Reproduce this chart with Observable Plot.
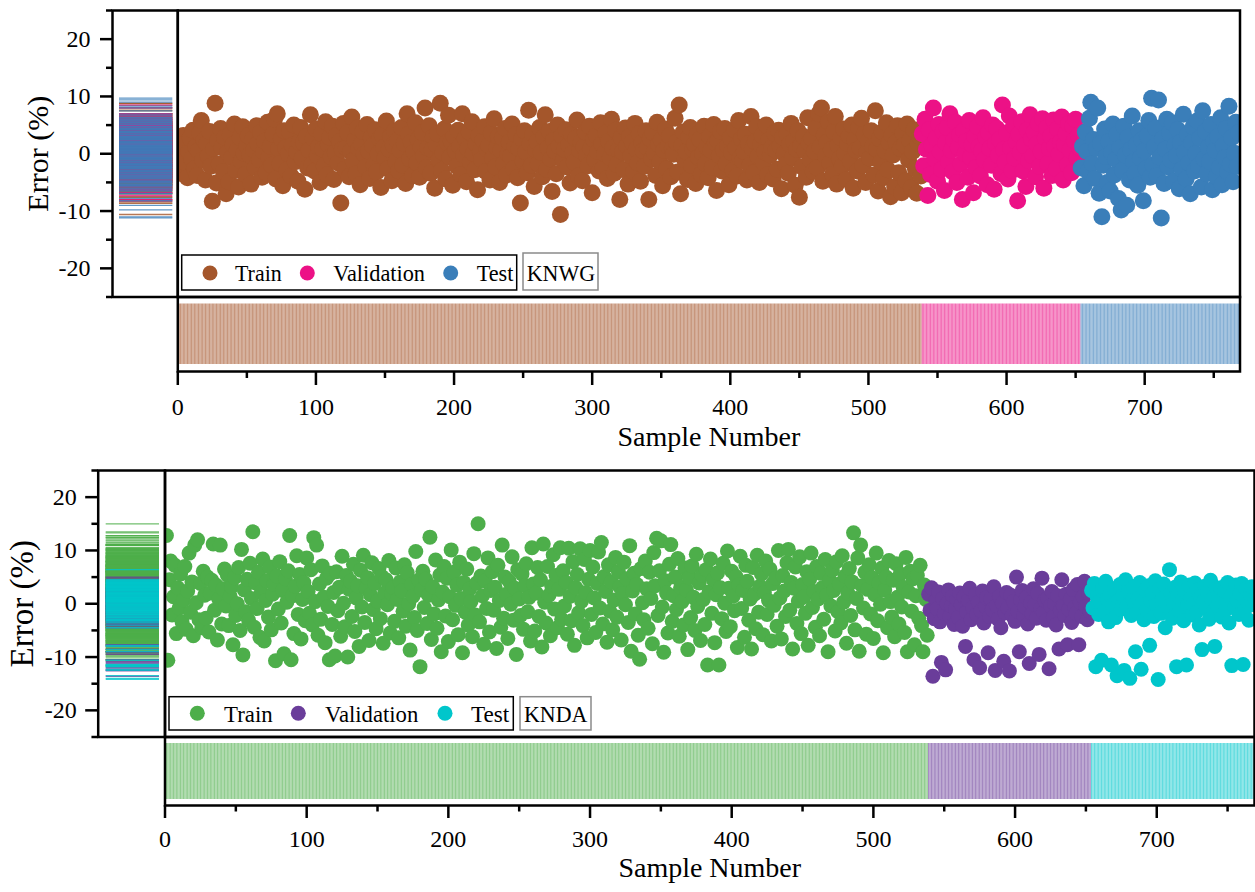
<!DOCTYPE html>
<html><head><meta charset="utf-8">
<script src="https://cdn.jsdelivr.net/npm/d3@7"></script>
<script src="https://cdn.jsdelivr.net/npm/@observablehq/plot@0.6"></script>
<style>
body{margin:0;background:#fff;}
#chart{position:relative;width:1255px;height:892px;overflow:hidden;font-family:"Liberation Serif","Times New Roman",serif;}
#chart svg{position:absolute;left:0;top:0;}
#chart svg text{font-family:"Liberation Serif","Times New Roman",serif !important;}
</style></head><body><div id="chart"></div>
<script>
// ---------- tick labels / categories ----------
const sampleTicks = [0, 100, 200, 300, 400, 500, 600, 700];
const sampleMinorTicks = [50, 150, 250, 350, 450, 550, 650, 750];
const errorTicks = [-20, -10, 0, 10, 20];
const errorMinorTicks = [-25, -15, -5, 5, 15, 25];
const setNames = ["Train", "Validation", "Test"];
const panelNames = ["KNWG", "KNDA"];
const knwgColors = ["#a4562b", "#ec1186", "#3a7eb9"];
const kndaColors = ["#4dae4a", "#6a3d9a", "#00c6cb"];

// ---------- KNWG errors (%) ----------
const knwgTrain = [
2.1,-3.4,0.8,3.2,-1.5,1.9,-4.2,0.3,2.7,-0.9,4.1,-2.6,1.2,-3.8,0.5,3.6,5.8,-1.1,2.4,-4.6,
1.7,-0.4,3.9,-2.2,-8.3,0.9,8.8,-5.1,2.3,-1.8,4.4,1.1,-3.1,2.9,-7.0,0.2,-4.9,3.3,-0.7,1.6,
5.2,-2.9,0.6,-5.8,2.8,-1.3,4.7,0.1,-3.6,1.4,3.1,-0.2,-5.3,2.5,0.7,-2.4,4.9,1.8,-1.0,3.7,
-4.1,0.4,2.2,-3.3,5.5,-0.6,1.3,-2.0,3.4,6.0,-4.4,7.0,0.9,-1.7,2.6,-5.6,4.0,1.0,-2.8,0.0,
3.8,-3.9,1.5,5.0,-1.4,0.3,-4.8,2.0,4.6,-0.8,1.9,-6.2,3.0,-2.5,0.6,6.8,-1.9,2.7,-3.0,4.3,
-0.3,1.2,-5.0,3.5,0.8,-2.1,5.6,-3.7,1.6,2.9,-0.5,4.8,-4.5,0.2,3.2,-1.6,2.1,-8.6,0.7,5.3,
-2.7,1.0,3.6,-4.0,0.4,6.4,-1.2,2.4,-3.5,4.5,0.9,-5.4,1.7,3.9,-0.1,-2.3,5.1,0.5,-4.3,2.8,
1.4,-1.9,4.2,-3.2,0.0,2.6,-5.9,3.3,1.1,-0.7,5.7,-2.6,0.8,3.0,-4.7,1.5,4.0,-1.4,2.3,-3.0,
0.6,4.6,-2.0,1.8,-5.2,7.0,3.4,-0.9,2.0,-3.8,0.3,5.4,-1.6,2.5,-4.1,1.2,3.7,-0.4,8.0,-2.4,
1.0,4.9,-3.4,0.7,2.9,-6.0,1.6,3.5,-1.1,8.8,-2.9,0.2,4.3,-4.4,1.9,6.7,-0.6,2.2,-5.5,3.1,
0.5,-2.2,4.1,1.3,-3.6,7.0,-0.2,2.7,-4.9,0.9,3.8,-1.5,5.6,0.1,-2.8,1.7,-6.3,3.2,0.4,-1.0,
2.4,4.7,-3.1,0.8,1.5,-4.6,3.6,-0.8,6.1,-2.3,1.1,3.0,-5.0,0.6,2.8,-1.7,4.4,-3.7,0.0,2.0,
-0.5,5.2,-2.6,1.4,3.3,-4.2,0.9,-8.6,2.6,-1.3,4.0,0.3,-3.3,7.6,1.8,-2.0,3.5,-5.7,0.7,2.1,
-1.8,4.6,0.2,-4.0,2.9,6.8,-2.7,1.0,3.9,-0.9,-6.6,2.3,0.5,-3.5,5.0,1.3,-10.6,3.1,-1.2,0.8,
4.2,-2.3,1.6,-5.1,3.4,0.1,-1.5,2.7,5.9,-3.9,0.6,2.0,-4.7,1.2,3.8,-0.3,-2.1,4.8,0.9,-6.8,
2.5,-1.0,3.2,0.4,-3.0,5.4,1.7,-2.5,0.0,3.6,-4.3,2.2,-0.7,6.0,1.0,-3.4,4.1,-1.9,0.7,-8.0,
2.8,0.3,-2.8,4.5,1.4,-5.3,3.0,-0.4,2.0,-3.1,5.3,0.8,-1.6,3.5,-4.8,1.9,0.5,-2.2,4.0,1.1,
-8.0,2.6,-0.9,3.7,0.2,-3.8,5.5,1.6,-1.4,2.4,-5.6,0.6,4.3,-2.6,1.3,3.1,-4.0,0.9,-0.1,6.2,
2.0,-3.2,8.5,-7.0,1.5,3.8,-1.1,0.4,-4.5,2.9,4.6,-2.0,0.8,1.7,-5.2,3.3,-0.6,2.5,-3.6,0.0,
4.8,-1.7,1.2,-4.2,3.0,0.6,-2.4,5.1,1.9,-6.4,2.3,-0.3,3.9,-3.0,0.7,4.4,-1.8,1.4,-5.4,2.8,
0.2,-2.9,4.2,1.0,-3.9,5.8,-0.8,2.6,-1.2,0.4,3.4,-4.6,1.8,-2.1,6.5,0.9,-3.3,2.1,4.7,-0.5,
-5.0,1.6,3.2,-1.5,0.3,5.0,-3.7,2.4,-0.2,1.1,-4.4,3.6,0.6,-2.7,4.1,1.3,-6.1,2.9,0.0,-1.9,
3.5,-3.4,1.7,5.3,-0.7,2.2,-5.5,0.8,4.0,-7.6,1.4,-2.3,3.0,0.5,-4.1,6.3,1.9,-1.0,2.7,-3.1,
0.4,4.5,-2.5,7.0,1.2,8.0,-4.8,3.3,-0.4,2.0,5.6,-1.6,0.7,-3.6,3.9,6.5,-5.3,1.5,-0.9,2.8,
-2.2,4.3,0.1,-4.5,1.8,3.1,-1.3,5.0,-6.0,2.4,0.6,-3.0,4.6,1.0,6.2,-2.0,3.4,-5.0,0.3,2.2,
-0.8,4.0,1.3,-3.7,7.5,0.8,-6.5,2.6,-1.5,3.8,-4.2,0.5,5.4,-2.8,1.9,-7.5,3.3,-0.2,-5.8,2.0,
4.9,-3.3,0.9,-6.8,3.6,1.5,-4.7,5.2,-1.1,2.3,-5.9,0.4,4.2,-2.6,-6.9,1.8,3.0,-3.9
];
const knwgValidation = [
3.5,-2.1,6.0,0.8,-7.3,4.2,-3.6,1.5,8.0,-0.9,2.7,-4.8,5.1,0.3,-2.7,3.9,-6.4,1.9,4.6,-1.4,
7.0,0.6,-3.2,2.4,5.5,-5.0,1.1,3.3,-1.8,-8.0,4.0,0.0,2.2,-4.1,5.8,-0.6,1.6,-6.8,3.0,-2.4,
4.7,1.2,-3.9,0.5,6.3,-1.1,2.9,-5.4,3.7,0.9,-2.0,5.0,-6.2,1.8,4.4,-0.3,2.5,-3.5,8.5,0.7,
-1.5,3.6,-4.4,6.6,1.0,-2.9,4.9,-0.8,2.1,-8.2,3.4,0.2,5.6,-3.0,1.4,-5.7,4.1,-1.2,6.8,2.6,
-0.4,3.8,-4.0,1.7,5.3,-2.2,0.4,6.1,-6.0,2.8,4.5,-1.7,0.9,3.1,-3.8,5.9,1.3,-2.6,4.3,-0.1,
2.0,6.4,-4.6,1.6,3.5,-1.9,5.2,0.6,-3.3,4.8,2.3,6.0,-0.7,3.2,1.0
];
const knwgTest = [
-2.5,1.3,-5.6,3.8,0.4,-3.1,6.2,9.0,-1.7,2.5,-4.3,0.9,8.0,-6.9,1.8,-11.0,-2.0,4.3,-0.5,-5.0,
2.1,-6.5,0.2,5.2,-3.7,-1.0,3.4,-7.8,1.0,-9.8,-2.9,4.8,-0.2,-9.0,2.9,-4.6,0.7,6.6,-1.4,-3.4,
1.6,-5.5,4.0,-0.8,2.4,-8.2,0.5,-2.6,3.1,5.8,-4.1,9.7,-1.9,1.2,4.5,-3.8,9.4,-0.6,-11.2,2.6,
-5.2,0.8,6.0,-2.3,3.6,-1.1,5.4,-4.8,1.5,-0.3,4.2,-6.1,2.0,-2.7,6.9,0.3,-4.4,3.3,-1.6,-7.0,
1.9,4.7,-3.0,0.0,5.7,-2.1,2.7,-5.8,7.5,-0.9,3.9,-3.5,1.1,-1.3,5.1,-6.3,2.2,0.6,-4.0,3.0,
-2.4,6.3,-5.4,1.4,-0.7,4.4,-3.2,8.3,-1.8,2.8,-4.9,0.1,5.5,-2.2,3.7
];

// ---------- KNDA errors (%) ----------
const kndaTrain = [
12.8,-10.6,4.5,8.0,-2.1,1.3,7.2,-5.6,3.0,-0.8,5.6,-3.4,0.7,7.0,-4.8,2.4,9.5,-1.6,4.1,-6.0,
11.0,0.2,12.0,-3.0,3.8,-4.5,6.1,1.6,-2.7,5.0,-5.3,2.0,4.4,11.2,-1.2,3.5,-6.8,0.9,11.0,-3.8,
2.8,6.5,-0.4,5.4,-4.1,1.4,3.2,-7.7,4.9,-2.2,0.0,6.8,-5.0,10.2,-9.6,2.6,-1.5,4.6,-3.1,7.6,
1.0,13.5,-4.4,3.9,-0.9,5.9,-6.3,2.2,8.4,-7.0,0.6,4.3,-2.5,6.9,-4.9,1.8,3.6,-10.7,5.2,-1.0,
7.9,-3.6,2.5,-9.4,4.7,0.3,6.2,12.8,-10.5,1.5,-5.6,3.3,9.0,-2.0,5.5,-6.6,0.8,4.0,-3.2,8.6,
2.3,-1.8,6.4,-4.0,12.4,0.4,11.0,-5.9,3.7,-2.9,7.1,1.2,-7.3,4.8,-0.5,-10.5,5.7,-3.9,2.1,-9.8,
6.0,-1.3,3.1,-6.1,8.9,0.1,-4.3,5.3,-10.0,2.7,4.2,-2.4,7.4,-5.2,1.1,3.4,-8.0,6.3,-0.6,9.1,
-3.5,2.9,4.9,-6.9,1.7,7.7,-1.1,3.8,-4.7,0.5,6.6,-2.8,5.1,-7.4,2.0,4.5,-0.2,8.1,-5.5,1.9,
3.0,-3.3,6.7,0.8,-6.4,4.1,2.4,-1.4,7.3,-4.2,5.8,0.0,-8.7,3.6,1.4,-2.6,9.8,-5.0,4.4,-11.8,
2.6,6.1,-0.7,4.6,-3.7,1.6,12.5,-6.7,3.2,-1.9,8.2,-4.6,0.7,5.4,-9.0,2.2,7.0,-2.3,4.8,-7.1,
1.3,10.1,-3.0,5.9,-0.3,3.5,-5.8,7.8,1.0,-9.2,4.0,-1.6,6.5,-4.0,2.8,0.4,-6.2,9.4,-2.1,3.9,
15.0,-3.4,5.2,1.5,-7.6,4.3,-0.9,8.6,-5.3,2.5,6.0,-1.2,3.1,-8.4,7.2,0.6,-4.4,11.0,-2.7,5.0,
1.8,-6.5,4.2,-0.1,8.8,-3.1,2.9,-9.5,6.4,0.9,-2.2,5.6,-4.8,3.4,7.5,-1.5,1.2,-7.0,10.5,3.7,
-5.1,2.0,6.8,-2.4,4.5,-8.1,11.2,0.3,-3.6,7.0,1.6,-6.0,3.3,9.2,-1.0,5.3,-4.5,2.7,10.5,-2.9,
6.2,-0.4,4.0,-5.7,10.4,1.4,-3.2,7.9,-7.8,3.0,5.5,-1.7,10.3,0.5,-4.1,8.3,2.1,-6.4,4.6,10.0,
-2.0,6.9,1.1,-5.4,3.8,9.7,-0.8,11.5,-3.8,5.1,2.3,-7.2,7.3,-1.4,4.1,-4.9,0.7,8.7,-2.5,6.0,
3.2,-6.8,1.9,7.8,-0.2,4.7,-3.5,10.9,-8.9,2.4,5.7,-1.9,3.6,-5.9,-10.4,6.6,0.2,-3.0,8.0,2.8,
-4.6,5.9,1.0,-7.5,9.6,3.4,12.3,-2.2,6.2,11.8,-0.6,-9.1,4.3,2.0,-5.5,7.4,11.1,-3.3,1.5,5.0,
-1.1,8.5,-6.1,3.1,0.4,-4.0,6.7,2.6,-8.6,4.9,-2.6,7.1,1.2,-5.0,9.3,-0.5,3.9,-6.9,5.4,0.8,
-3.9,6.4,-11.5,2.2,8.4,-1.8,4.5,-7.3,1.7,5.8,-11.5,3.0,-2.8,7.6,0.1,-5.2,9.9,2.9,-4.3,6.1,
1.4,-1.3,5.1,-8.2,3.5,8.9,-0.9,2.5,-6.3,7.2,4.2,-3.1,0.9,-8.5,6.8,1.8,-4.7,9.1,-1.6,3.3,
5.6,-5.8,2.1,8.0,-2.0,0.6,6.5,-7.0,3.8,-0.3,4.8,-4.2,10.0,1.1,-6.6,5.3,2.4,-2.4,7.7,10.2,
-1.2,4.0,-8.5,2.9,6.9,-3.7,0.5,8.8,-5.6,3.6,1.3,-1.8,6.0,-7.8,4.6,9.5,-0.7,2.3,-4.4,7.0,
0.9,-6.0,5.7,3.0,-2.9,8.3,1.6,-9.0,4.4,-0.4,6.3,2.5,-5.1,7.9,-1.5,3.7,-3.6,9.0,0.3,5.2,
-7.4,2.0,6.6,-2.2,4.1,13.3,-4.9,1.0,8.6,-8.9,11.0,3.4,-0.8,5.9,-5.7,2.7,7.3,-1.9,4.9,-6.5,
1.7,9.5,-3.2,3.9,-0.1,6.7,-9.2,2.6,5.0,-4.5,8.1,0.4,-2.5,4.4,-6.2,7.5,1.2,-3.8,5.6,-0.6,
3.1,-5.4,8.7,-9.0,2.2,6.1,-1.4,4.7,-7.7,1.5,5.3,-2.7,7.2,-4.1,-9.0,3.5,0.8,-5.9
];
const kndaValidation = [
1.8,-1.2,3.0,-13.6,-2.8,0.5,-0.9,2.2,-3.4,-11.0,1.0,-1.8,-12.4,0.0,2.6,-2.3,-0.4,1.5,-3.9,-1.0,
0.8,-2.6,2.0,-0.2,-4.2,1.3,-8.0,-1.5,0.6,2.9,-3.0,-0.7,-10.5,1.7,-2.0,0.3,-12.0,-1.3,2.4,-3.6,
-0.5,1.1,-9.2,-2.4,0.9,-1.1,3.2,-12.5,-0.3,-2.9,1.4,-4.5,0.1,-10.8,-1.7,2.1,-0.8,-12.6,1.6,-2.2,
0.4,-3.3,5.0,-1.4,-9.0,0.7,2.5,-2.1,-0.6,1.2,-3.8,-11.2,0.2,-1.9,2.8,-0.1,-2.7,1.9,-9.5,-0.9,
4.8,-1.6,0.6,-3.1,1.0,-12.2,-0.4,2.3,-2.5,0.0,-4.0,1.5,-8.5,-1.2,4.5,-0.3,-2.2,1.8,-7.7,-1.0,
0.9,-3.5,2.7,-0.7,-1.8,3.6,-7.7,0.3,-2.4,1.3,4.2,-0.5,-3.0,2.0,-1.5
];
const kndaTest = [
2.5,-0.8,3.8,-11.8,1.2,-2.0,0.4,-10.6,3.0,-1.5,4.2,0.9,-3.4,1.8,-11.5,-0.3,2.7,-2.6,-13.5,0.6,
3.6,-1.0,1.5,-12.5,4.5,-0.5,2.2,-14.0,-2.2,0.8,3.2,-9.0,-1.7,1.0,4.0,-12.3,0.2,-3.0,2.5,-1.2,
3.4,-7.8,0.5,1.9,-2.4,4.3,-0.1,-14.2,2.8,-1.8,0.9,3.7,-4.5,1.4,-0.6,6.4,2.0,-2.7,0.1,3.1,
-11.8,1.6,-1.3,4.1,0.7,-3.2,2.4,-11.5,-0.2,3.5,1.1,-2.1,0.0,3.9,-1.6,2.6,-4.0,1.3,-8.6,0.5,
3.3,-0.9,2.1,-2.9,4.4,0.8,-1.4,-8.0,2.9,-0.4,1.7,3.0,-2.5,0.3,2.4,-1.1,4.0,-3.6,1.2,-11.6,
2.2,-0.7,3.5,0.6,-2.0,1.9,3.8,-11.4,-1.3,2.7,0.4,-3.1,1.6,3.2,-0.2
];

// ---------- layout (pixels) ----------
const W = 1255, H = 892;
const FONT = '"Liberation Serif","Times New Roman",serif';
const panels = [
  {name: panelNames[0], colors: knwgColors, sets: [knwgTrain, knwgValidation, knwgTest],
   axL: 112, mainL: 177.3, mainR: 1239.5, top: 10, bottom: 296.5, stripBottom: 371,
   r: 8.5, rugInset: [7, 5], stripInset: [7, 7], yLabelDx: -74, yLabelSize: 30,
   yTickSize: 12, yTickPad: 10, xTickSize: 14, xTickPad: 12, xLabelDy: 74,
   legend: {box: [181.7, 255, 516.7, 290], dotsX: [210, 307.3, 450.7], dotY: 273, textX: [235, 333.3, 476.7],
            textW: [46.7, 91.7, 36.7], base: 280.5, tag: [523, 253, 598, 290], tagX: 526.7, tagW: 68.3}},
  {name: panelNames[1], colors: kndaColors, sets: [kndaTrain, kndaValidation, kndaTest],
   axL: 97.7, mainL: 164.5, mainR: 1254, top: 470, bottom: 736.5, stripBottom: 805,
   r: 7.5, rugInset: [8, 5.5], stripInset: [6.5, 6], yLabelDx: -76, yLabelSize: 33,
   yTickSize: 12.5, yTickPad: 9, xTickSize: 13, xTickPad: 11, xLabelDy: 71,
   legend: {box: [169, 696.7, 513.3, 730], dotsX: [197.3, 298.3, 445], dotY: 713.3, textX: [224, 325, 471],
            textW: [48.7, 93.3, 38.3], base: 721.5, tag: [520, 696.7, 591, 730], tagX: 524, tagW: 63.3}}
];
const xDomain = [0, 769];
const chart = document.getElementById("chart");
const baseStyle = `background:transparent;font-family:${FONT};font-size:24px;overflow:visible;color:black;`;

function serif(node) {
  node.querySelectorAll("text").forEach(t => { t.style.fontFamily = FONT; });
  return node;
}

for (const p of panels) {
  let n = 0;
  const groups = p.sets.map((arr, k) => arr.map(v => ({sample: ++n, error: v, set: setNames[k]})));

  // left rug of error values
  chart.append(serif(Plot.plot({
    width: W, height: H, style: baseStyle,
    marginLeft: p.axL, marginRight: W - p.mainL, marginTop: p.top, marginBottom: H - p.bottom,
    y: {domain: [-25, 25]},
    marks: [
      ...groups.map((g, k) => Plot.ruleY(g, {y: "error", stroke: p.colors[k], strokeWidth: 1.3, strokeOpacity: 0.8,
        insetLeft: p.rugInset[0], insetRight: p.rugInset[1]})),
      Plot.axisY({ticks: errorMinorTicks, tickSize: p.yTickSize / 2, tickFormat: () => "", label: null, strokeWidth: 2.5}),
      Plot.axisY({ticks: errorTicks, tickSize: p.yTickSize, tickPadding: p.yTickPad, tickFormat: d => String(d),
        label: null, strokeWidth: 2.5, fontSize: 24, fontFamily: FONT}),
      Plot.text(["Error (%)"], {text: d => d, frameAnchor: "left", rotate: -90, textAnchor: "middle",
        dx: p.yLabelDx, fontSize: p.yLabelSize, fontFamily: FONT}),
      Plot.frame({stroke: "black", strokeWidth: 2.5})
    ]
  })));

  // main scatter
  chart.append(Plot.plot({
    width: W, height: H, style: baseStyle,
    marginLeft: p.mainL, marginRight: W - p.mainR, marginTop: p.top, marginBottom: H - p.bottom,
    x: {domain: xDomain, axis: null}, y: {domain: [-25, 25], axis: null},
    marks: [
      ...groups.map((g, k) => Plot.dot(g, {x: "sample", y: "error", r: p.r, fill: p.colors[k], stroke: "none", clip: true})),
      Plot.frame({stroke: "black", strokeWidth: 2.5})
    ]
  }));

  // bottom strip of sample numbers
  chart.append(serif(Plot.plot({
    width: W, height: H, style: baseStyle,
    marginLeft: p.mainL, marginRight: W - p.mainR, marginTop: p.bottom, marginBottom: H - p.stripBottom,
    x: {domain: xDomain},
    marks: [
      ...groups.map((g, k) => Plot.ruleX(g, {x: "sample", stroke: p.colors[k], strokeWidth: 1.2, strokeOpacity: 0.62,
        insetTop: p.stripInset[0], insetBottom: p.stripInset[1]})),
      Plot.axisX({ticks: sampleMinorTicks, tickSize: p.xTickSize / 2, tickFormat: () => "", label: null, strokeWidth: 2.5}),
      Plot.axisX({ticks: sampleTicks, tickSize: p.xTickSize, tickPadding: p.xTickPad, tickFormat: d => String(d),
        label: null, strokeWidth: 2.5, fontSize: 24, fontFamily: FONT}),
      Plot.text(["Sample Number"], {text: d => d, frameAnchor: "bottom", dy: p.xLabelDy, fontSize: 28, fontFamily: FONT}),
      Plot.frame({stroke: "black", strokeWidth: 2.5})
    ]
  })));
}

// ---------- legends ----------
const svg = d3.create("svg").attr("width", W).attr("height", H).style("font-family", FONT);
for (const p of panels) {
  const L = p.legend;
  svg.append("rect").attr("x", L.box[0]).attr("y", L.box[1]).attr("width", L.box[2] - L.box[0]).attr("height", L.box[3] - L.box[1])
    .attr("fill", "white").attr("stroke", "black").attr("stroke-width", 1.5);
  setNames.forEach((s, k) => {
    svg.append("circle").attr("cx", L.dotsX[k]).attr("cy", L.dotY).attr("r", 7.5).attr("fill", p.colors[k]);
    svg.append("text").attr("x", L.textX[k]).attr("y", L.base).attr("font-size", 24)
      .attr("textLength", L.textW[k]).attr("lengthAdjust", "spacingAndGlyphs").text(s);
  });
  svg.append("rect").attr("x", L.tag[0]).attr("y", L.tag[1]).attr("width", L.tag[2] - L.tag[0]).attr("height", L.tag[3] - L.tag[1])
    .attr("fill", "white").attr("stroke", "#8a8a8a").attr("stroke-width", 1.5);
  svg.append("text").attr("x", L.tagX).attr("y", L.base).attr("font-size", 24)
    .attr("textLength", L.tagW).attr("lengthAdjust", "spacingAndGlyphs").text(p.name);
}
chart.append(svg.node());
</script></body></html>
